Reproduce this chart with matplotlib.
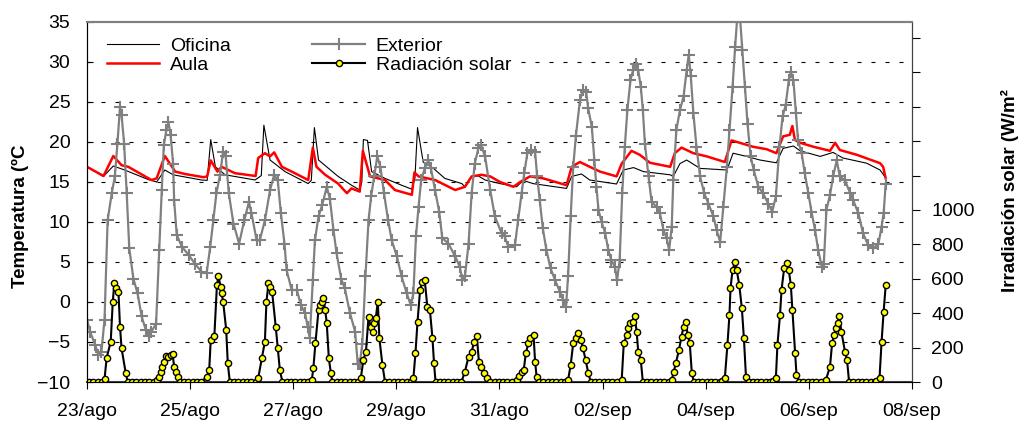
import numpy as np
import matplotlib.pyplot as plt
from matplotlib.ticker import FuncFormatter

plt.rcParams['font.family'] = ['Liberation Sans', 'DejaVu Sans']

# x axis in days counted from 23/ago 00:00
tick_days = [0, 2, 4, 6, 8, 10, 12, 14, 16]
tick_labels = ['23/ago', '25/ago', '27/ago', '29/ago', '31/ago',
               '02/sep', '04/sep', '06/sep', '08/sep']

oficina_t = [0, 0.32, 0.51, 0.73, 1.19, 1.35, 1.51, 1.67, 2.22, 2.33, 2.40, 2.49,
             2.68, 3.26, 3.38, 3.43, 3.55, 3.84, 4.29, 4.35, 4.41, 4.49, 4.87,
             5.13, 5.29, 5.33, 5.36, 5.44, 5.52, 5.78, 6.10, 6.30, 6.36, 6.41,
             6.52, 6.72, 6.94, 7.27, 7.33, 7.46, 7.59, 7.72, 8.01, 8.33, 8.46,
             8.65, 9.30, 9.40, 9.59, 9.75, 10.27, 10.40, 10.60, 10.79, 11.31,
             11.37, 11.50, 11.63, 11.89, 12.41, 12.53, 12.79, 13.05, 13.37,
             13.50, 13.70, 13.83, 14.22, 14.47, 14.66, 15.12, 15.38, 15.47]
oficina_v = [16.9, 15.7, 17.0, 16.5, 15.3, 15.0, 16.5, 15.9, 15.25, 15.2, 20.3, 16.9,
             15.9, 15.25, 15.8, 22.1, 17.75, 16.3, 14.8, 15.2, 21.8, 17.75, 15.7,
             14.6, 14.0, 15.0, 20.3, 20.2, 16.3, 15.45, 14.6, 14.1, 15.5, 21.8,
             17.5, 16.7, 15.45, 14.8, 14.4, 15.7, 15.75, 15.25, 14.8, 14.4, 15.2,
             14.8, 14.2, 15.7, 16.0, 15.25, 14.75, 16.5, 16.8, 16.3, 15.9,
             15.7, 17.3, 17.75, 16.7, 16.5, 18.6, 18.2, 17.75, 17.4,
             19.2, 19.5, 18.9, 18.2, 18.7, 18.0, 17.35, 16.5, 15.7]

aula_t = [0, 0.32, 0.51, 0.67, 0.80, 1.25, 1.35, 1.51, 1.71, 1.90, 2.26, 2.33, 2.40,
          2.53, 2.61, 2.87, 3.27, 3.32, 3.45, 3.55, 3.63, 3.78, 3.97, 4.29, 4.38,
          4.45, 4.62, 4.87, 5.04, 5.13, 5.29, 5.35, 5.49, 5.78, 5.97, 6.30, 6.35,
          6.43, 6.75, 7.14, 7.33, 7.46, 7.65, 7.82, 8.01, 8.27, 8.40, 8.59, 8.85,
          9.30, 9.40, 9.56, 9.75, 9.95, 10.27, 10.37, 10.56, 10.72, 10.92, 11.31,
          11.40, 11.53, 11.76, 12.02, 12.37, 12.50, 12.66, 12.92, 13.18, 13.37,
          13.50, 13.63, 13.68, 13.73, 13.83, 14.09, 14.41, 14.51, 14.60, 14.93,
          15.38, 15.44, 15.49]
aula_v = [16.9, 15.75, 18.25, 17.1, 16.9, 15.25, 15.45, 18.25, 16.3, 16.0, 15.6, 15.7, 17.7,
          16.3, 16.9, 16.1, 15.75, 18.0, 18.6, 18.2, 18.7, 16.9, 16.3, 15.25, 19.3,
          16.9, 15.9, 14.8, 13.6, 14.2, 13.8, 18.9, 15.7, 15.25, 14.0, 13.4, 16.2,
          15.7, 15.25, 14.0, 14.4, 15.7, 15.9, 15.7, 15.0, 14.4, 15.0, 15.7, 15.45,
          14.6, 16.9, 17.5, 16.9, 16.3, 15.7, 17.3, 18.9, 18.4, 17.4, 16.9,
          18.6, 19.3, 18.6, 18.2, 17.5, 20.2, 19.9, 19.4, 19.1, 18.6,
          20.7, 20.9, 22.0, 20.25, 19.9, 19.4, 18.9, 19.9, 19.0, 18.4,
          17.35, 16.9, 15.45]

exterior_t = [0, 0.06, 0.16, 0.22, 0.28, 0.34, 0.40, 0.48, 0.54, 0.59, 0.64, 0.67,
              0.72, 0.77, 0.82, 0.90, 0.98, 1.06, 1.14, 1.20, 1.25, 1.34, 1.40, 1.45,
              1.49, 1.54, 1.58, 1.62, 1.67, 1.69, 1.74, 1.84, 1.97, 2.09, 2.22, 2.32,
              2.39, 2.45, 2.51, 2.58, 2.64, 2.69, 2.75, 2.84, 2.95, 3.05, 3.14, 3.19,
              3.29, 3.35, 3.45, 3.55, 3.63, 3.70, 3.76, 3.83, 3.87, 3.97, 4.07, 4.15,
              4.23, 4.28, 4.32, 4.38, 4.42, 4.49, 4.56, 4.65, 4.71, 4.78, 4.84, 4.93,
              5.00, 5.10, 5.20, 5.25, 5.29, 5.34, 5.40, 5.46, 5.51, 5.57, 5.63, 5.69,
              5.76, 5.84, 5.91, 6.01, 6.10, 6.20, 6.28, 6.33, 6.38, 6.43, 6.48, 6.55,
              6.62, 6.67, 6.75, 6.83, 6.89, 7.01, 7.14, 7.23, 7.28, 7.33, 7.40, 7.46,
              7.52, 7.59, 7.64, 7.72, 7.82, 7.91, 8.04, 8.10, 8.17, 8.30, 8.36, 8.43,
              8.48, 8.54, 8.62, 8.69, 8.73, 8.78, 8.84, 8.91, 8.99, 9.08, 9.17, 9.24,
              9.29, 9.33, 9.38, 9.43, 9.48, 9.56, 9.62, 9.68, 9.72, 9.79, 9.84, 9.88,
              9.92, 9.98, 10.05, 10.11, 10.17, 10.24, 10.28, 10.33, 10.38, 10.43, 10.48,
              10.54, 10.59, 10.64, 10.69, 10.74, 10.78, 10.82, 10.89, 10.95, 11.05,
              11.11, 11.18, 11.24, 11.29, 11.34, 11.37, 11.43, 11.50, 11.57, 11.63,
              11.67, 11.71, 11.76, 11.82, 11.89, 11.97, 12.05, 12.15, 12.21, 12.28,
              12.34, 12.41, 12.46, 12.52, 12.57, 12.61, 12.66, 12.71, 12.76, 12.81,
              12.87, 12.93, 13.02, 13.11, 13.21, 13.29, 13.36, 13.43, 13.49, 13.55,
              13.61, 13.65, 13.70, 13.75, 13.79, 13.86, 13.92, 13.99, 14.05, 14.12,
              14.18, 14.25, 14.29, 14.34, 14.41, 14.47, 14.54, 14.60, 14.70, 14.80,
              14.86, 14.96, 15.05, 15.15, 15.25, 15.35, 15.41, 15.45, 15.49]
exterior_v = [-2.2, -3.7, -5.4, -6.6, -6.2, -2.2, 10.2, 13.6, 15.7, 19.8, 24.4, 23.4,
              19.8, 13.6, 6.7, 2.9, 1.1, -1.8, -3.5, -4.3, -3.7, -2.7, 6.5, 14.0,
              19.6, 21.5, 22.5, 20.9, 17.3, 12.7, 8.4, 6.9, 5.9, 4.8, 3.8, 3.6,
              6.9, 10.2, 13.6, 15.9, 18.8, 18.2, 13.6, 9.8, 7.3, 10.2, 12.5, 11.1,
              7.7, 7.7, 10.2, 14.0, 15.9, 15.2, 11.1, 7.3, 4.0, 1.5, 1.5, -0.4,
              -1.4, -3.1, -4.5, 2.7, 7.7, 10.7, 12.1, 14.4, 12.9, 9.0, 6.1, 2.9,
              1.7, -1.4, -3.7, -7.7, -7.7, -5.2, 3.2, 10.2, 13.2, 15.7, 18.2, 16.9,
              13.6, 10.2, 7.7, 5.7, 3.2, 1.1, -0.4, 1.1, 8.2, 11.9, 15.2, 16.7,
              17.7, 16.7, 14.0, 11.3, 8.0, 7.3, 5.7, 4.4, 2.7, 3.2, 7.3, 13.6,
              17.3, 19.2, 19.6, 18.2, 14.0, 10.7, 8.6, 8.2, 6.9, 7.1, 10.2, 13.6,
              16.1, 18.6, 19.0, 18.8, 15.7, 12.7, 9.2, 6.5, 4.2, 2.7, 1.3, 0.2,
              -0.6, 3.2, 10.7, 16.9, 20.7, 25.2, 26.5, 26.3, 24.2, 21.9, 17.7, 14.4,
              11.5, 10.0, 8.6, 6.5, 5.2, 4.4, 2.7, 5.2, 13.6, 19.4, 24.0,
              27.7, 29.0, 29.8, 29.0, 26.9, 24.0, 19.8, 15.7, 12.5, 11.9,
              11.1, 9.0, 8.0, 6.5, 9.4, 15.2, 21.5, 24.0, 25.7, 29.0,
              30.9, 28.2, 23.6, 19.4, 15.7, 13.6, 12.3, 10.7, 9.0, 7.5,
              11.9, 16.9, 21.5, 26.9, 31.9, 35.5, 36.0, 31.5, 26.9, 22.3,
              18.2, 16.5, 14.4, 13.6, 12.3, 11.3, 13.2, 19.4, 23.2, 24.6,
              27.7, 28.8, 27.7, 23.6, 20.2, 18.6, 16.1, 13.6, 11.3, 9.0,
              6.5, 4.4, 4.8, 11.5, 13.4, 15.7, 17.7, 15.7, 15.2, 13.6,
              12.7, 11.1, 8.6, 7.1, 6.7, 7.3, 9.4, 11.1, 14.8]

# solar radiation, daytime readings (W/m2)
rad_day_t = [
    [0.34, 0.38, 0.46, 0.50, 0.53, 0.56, 0.61, 0.64, 0.67, 0.75, 0.79],
    [1.35, 1.40, 1.44, 1.46, 1.49, 1.53, 1.58, 1.62, 1.66, 1.69, 1.72, 1.76, 1.80],
    [2.32, 2.37, 2.40, 2.47, 2.52, 2.55, 2.59, 2.61, 2.64, 2.70, 2.73, 2.77],
    [3.32, 3.39, 3.45, 3.48, 3.52, 3.55, 3.59, 3.66, 3.70, 3.74, 3.79],
    [4.36, 4.39, 4.43, 4.49, 4.52, 4.55, 4.58, 4.62, 4.65, 4.69, 4.73, 4.76],
    [5.31, 5.36, 5.41, 5.46, 5.50, 5.54, 5.57, 5.60, 5.64, 5.67, 5.73, 5.78],
    [6.33, 6.37, 6.41, 6.46, 6.50, 6.55, 6.60, 6.65, 6.70, 6.73, 6.76],
    [7.33, 7.40, 7.46, 7.51, 7.56, 7.60, 7.65, 7.70, 7.75, 7.82],
    [8.33, 8.38, 8.43, 8.47, 8.51, 8.56, 8.60, 8.66, 8.69, 8.72, 8.77],
    [9.33, 9.38, 9.43, 9.48, 9.53, 9.58, 9.62, 9.67, 9.72, 9.77],
    [10.37, 10.41, 10.47, 10.50, 10.54, 10.58, 10.62, 10.66, 10.69, 10.74, 10.78],
    [11.34, 11.38, 11.42, 11.48, 11.53, 11.57, 11.61, 11.65, 11.69, 11.73, 11.77],
    [12.31, 12.37, 12.42, 12.46, 12.48, 12.52, 12.57, 12.60, 12.65, 12.70, 12.74, 12.78, 12.83],
    [13.31, 13.36, 13.39, 13.44, 13.47, 13.52, 13.57, 13.61, 13.65, 13.68, 13.73, 13.76, 13.81],
    [14.33, 14.41, 14.45, 14.49, 14.53, 14.56, 14.59, 14.63, 14.70, 14.74, 14.78],
    [15.31, 15.37, 15.41, 15.45, 15.49],
]
rad_day_v = [
    [16, 138, 235, 467, 574, 545, 525, 322, 196, 54, 0],
    [12, 31, 60, 90, 119, 151, 144, 157, 161, 90, 60, 31, 0],
    [31, 70, 245, 268, 564, 617, 555, 516, 467, 303, 109, 0],
    [22, 138, 235, 467, 574, 555, 525, 322, 196, 70, 0],
    [12, 80, 225, 419, 448, 467, 487, 419, 341, 138, 51, 0],
    [22, 128, 177, 380, 322, 293, 341, 370, 467, 254, 99, 0],
    [22, 167, 351, 535, 584, 593, 438, 419, 254, 109, 0],
    [60, 148, 177, 235, 268, 119, 90, 54, 22, 0],
    [12, 35, 60, 70, 167, 225, 254, 274, 119, 31, 0],
    [12, 99, 225, 254, 283, 245, 196, 128, 54, 0],
    [12, 225, 274, 312, 341, 351, 384, 293, 177, 128, 0],
    [12, 60, 109, 186, 264, 322, 351, 274, 225, 51, 0],
    [8, 22, 215, 390, 545, 652, 700, 652, 564, 429, 254, 31, 0],
    [8, 22, 215, 390, 535, 661, 690, 652, 564, 419, 167, 41, 0],
    [12, 90, 225, 274, 312, 341, 384, 293, 177, 128, 0],
    [8, 22, 235, 409, 564],
]

# night readings (zero) logged every two hours between the daytime blocks
rad_t, rad_v = [], []
prev_end = -1 / 24
for dt, dv in zip(rad_day_t, rad_day_v):
    night = np.arange(prev_end + 1 / 12, dt[0] - 0.03, 1 / 12)
    rad_t += list(night) + dt
    rad_v += [0] * len(night) + dv
    prev_end = dt[-1]

fig = plt.figure(figsize=(10.2, 4.23), dpi=100)
ax = fig.add_axes([87 / 1020, 1 - 382 / 423, 825 / 1020, 360 / 423])
ax2 = ax.twinx()

for yv in range(-5, 35, 5):
    ax.axhline(yv, color='black', lw=0.8, ls=(0, (3.6, 9)), zorder=0)

l1, = ax.plot(oficina_t, oficina_v, color='black', lw=0.8, label='Oficina')
l2, = ax.plot(aula_t, aula_v, color='#ff0000', lw=1.8, label='Aula')
l3, = ax.plot(exterior_t, exterior_v, color='#808080', lw=1.6, marker='+',
              ms=8, mew=1.5, label='Exterior')
l4, = ax2.plot(rad_t, rad_v, color='black', lw=1.5, marker='o', ms=4.5,
               mfc='#ffff00', mec='black', mew=1.0, label='Radiación solar')

ax.set_xlim(0, 16)
ax.set_ylim(-10, 35)
ax2.set_ylim(0, 2093)
ax.set_xticks(tick_days)
ax.set_xticklabels(tick_labels)
ax.set_yticks(range(-10, 40, 5))
ax2.set_yticks(range(0, 2200, 200))
ax2.yaxis.set_major_formatter(FuncFormatter(lambda v, p: f'{v:.0f}' if v <= 1000 else ''))

ax.tick_params(axis='x', direction='out', length=5, pad=10, labelsize=14)
ax.tick_params(axis='y', direction='in', length=4, pad=12, labelsize=14)
ax2.tick_params(axis='y', direction='out', length=6, pad=8, labelsize=14)

ax.spines['left'].set_color('black')
ax.spines['bottom'].set_color('#404040')
ax.spines['bottom'].set_linewidth(1.5)
for a in (ax, ax2):
    a.spines['top'].set_color('#808080')
    a.spines['top'].set_linewidth(1.5)
    a.spines['right'].set_color('#404040')

fig.text(20 / 1020, 1 - 216 / 423, 'Temperatura (ºC', rotation=90, fontsize=13.5,
         fontweight='bold', ha='center', va='center')
fig.text(1010 / 1020, 1 - 191 / 423, 'Irradiación solar (W/m²', rotation=90,
         fontsize=13.5, fontweight='bold', ha='center', va='center')

leg = ax2.legend(handles=[l1, l2, l3, l4], ncol=2, loc='upper left',
                 bbox_to_anchor=(0.005, 1.0), frameon=True, fancybox=False,
                 edgecolor='none', facecolor='white', framealpha=1,
                 fontsize=14, handlelength=2.7, handletextpad=0.55,
                 columnspacing=4.2, labelspacing=0.05, borderpad=0.3)

fig.savefig('out.png', dpi=100)
